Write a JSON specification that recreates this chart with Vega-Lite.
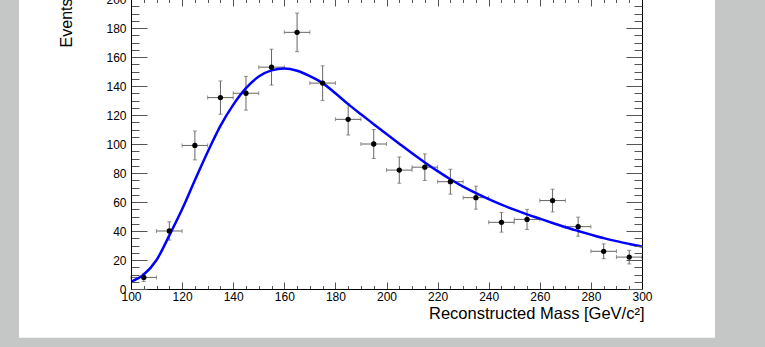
{
  "$schema": "https://vega.github.io/schema/vega-lite/v6.json",
  "width": 511,
  "height": 290,
  "autosize": {"type": "none"},
  "padding": {"left": 131, "top": -1, "right": 123, "bottom": 58},
  "background": "#c5c6c6",
  "config": {
    "view": {"stroke": null},
    "axis": {
      "grid": false,
      "domainColor": "#000000",
      "domainWidth": 1,
      "tickColor": "#555555",
      "tickWidth": 1,
      "labelFont": "Liberation Sans",
      "labelFontSize": 12,
      "labelColor": "#000000",
      "labelFlush": false,
      "labelOverlap": false,
      "labelBound": false,
      "titleFont": "Liberation Sans",
      "titleFontSize": 16,
      "titleFontWeight": "normal",
      "titleColor": "#000000"
    }
  },
  "datasets": {
    "pts": [
      {"m": 105, "xlo": 100, "xhi": 110, "n": 8, "lo": 5.17, "hi": 10.83},
      {"m": 115, "xlo": 110, "xhi": 120, "n": 40, "lo": 33.68, "hi": 46.32},
      {"m": 125, "xlo": 120, "xhi": 130, "n": 99, "lo": 89.05, "hi": 108.95},
      {"m": 135, "xlo": 130, "xhi": 140, "n": 132, "lo": 120.51, "hi": 143.49},
      {"m": 145, "xlo": 140, "xhi": 150, "n": 135, "lo": 123.38, "hi": 146.62},
      {"m": 155, "xlo": 150, "xhi": 160, "n": 153, "lo": 140.63, "hi": 165.37},
      {"m": 165, "xlo": 160, "xhi": 170, "n": 177, "lo": 163.7, "hi": 190.3},
      {"m": 175, "xlo": 170, "xhi": 180, "n": 142, "lo": 130.08, "hi": 153.92},
      {"m": 185, "xlo": 180, "xhi": 190, "n": 117, "lo": 106.18, "hi": 127.82},
      {"m": 195, "xlo": 190, "xhi": 200, "n": 100, "lo": 90, "hi": 110},
      {"m": 205, "xlo": 200, "xhi": 210, "n": 82, "lo": 72.94, "hi": 91.06},
      {"m": 215, "xlo": 210, "xhi": 220, "n": 84, "lo": 74.83, "hi": 93.17},
      {"m": 225, "xlo": 220, "xhi": 230, "n": 74, "lo": 65.4, "hi": 82.6},
      {"m": 235, "xlo": 230, "xhi": 240, "n": 63, "lo": 55.06, "hi": 70.94},
      {"m": 245, "xlo": 240, "xhi": 250, "n": 46, "lo": 39.22, "hi": 52.78},
      {"m": 255, "xlo": 250, "xhi": 260, "n": 48, "lo": 41.07, "hi": 54.93},
      {"m": 265, "xlo": 260, "xhi": 270, "n": 61, "lo": 53.19, "hi": 68.81},
      {"m": 275, "xlo": 270, "xhi": 280, "n": 43, "lo": 36.44, "hi": 49.56},
      {"m": 285, "xlo": 280, "xhi": 290, "n": 26, "lo": 20.9, "hi": 31.1},
      {"m": 295, "xlo": 290, "xhi": 300, "n": 22, "lo": 17.31, "hi": 26.69}
    ],
    "fit": [
      {"x": 100, "y": 5}, {"x": 105, "y": 10}, {"x": 110, "y": 20}, {"x": 115, "y": 37},
      {"x": 120, "y": 55}, {"x": 125, "y": 75}, {"x": 130, "y": 94.5}, {"x": 135, "y": 112.5},
      {"x": 140, "y": 127}, {"x": 145, "y": 138.5}, {"x": 150, "y": 146.5}, {"x": 155, "y": 150.8},
      {"x": 160, "y": 152}, {"x": 165, "y": 150.5}, {"x": 170, "y": 146.8}, {"x": 175, "y": 142},
      {"x": 180, "y": 135}, {"x": 185, "y": 127.5}, {"x": 190, "y": 120.5}, {"x": 195, "y": 113.7},
      {"x": 200, "y": 106.9}, {"x": 205, "y": 100.2}, {"x": 210, "y": 93.6}, {"x": 215, "y": 87.3},
      {"x": 220, "y": 81.3}, {"x": 225, "y": 75.7}, {"x": 230, "y": 70.6}, {"x": 235, "y": 66.1},
      {"x": 240, "y": 62}, {"x": 245, "y": 58.2}, {"x": 250, "y": 54.7}, {"x": 255, "y": 51.5},
      {"x": 260, "y": 48.5}, {"x": 265, "y": 45.5}, {"x": 270, "y": 42.6}, {"x": 275, "y": 40},
      {"x": 280, "y": 37.5}, {"x": 285, "y": 35.1}, {"x": 290, "y": 33}, {"x": 295, "y": 31.1},
      {"x": 300, "y": 29.3}
    ]
  },
  "resolve": {"axis": {"x": "independent", "y": "independent"}},
  "layer": [
    {
      "data": {"values": [{}]},
      "mark": {"type": "rect", "fill": "#ffffff", "clip": false},
      "encoding": {
        "x": {"datum": 56.16, "type": "quantitative", "scale": {"domain": [100, 300], "nice": false, "zero": false}, "axis": null},
        "x2": {"datum": 328.57},
        "y": {"datum": -33.6, "type": "quantitative", "scale": {"domain": [0, 200], "nice": false, "zero": false}, "axis": null},
        "y2": {"datum": 215}
      }
    },
    {
      "data": {"name": "pts"},
      "mark": {"type": "rule", "color": "#666666", "strokeWidth": 1},
      "encoding": {
        "x": {"field": "m", "type": "quantitative", "scale": {"domain": [100, 300], "nice": false, "zero": false},
          "axis": {"orient": "bottom", "zindex": 2, "values": [100,105,110,115,120,125,130,135,140,145,150,155,160,165,170,175,180,185,190,195,200,205,210,215,220,225,230,235,240,245,250,255,260,265,270,275,280,285,290,295,300], "tickSize": -3.5, "labels": false, "domain": false, "title": null}},
        "y": {"field": "lo", "type": "quantitative", "scale": {"domain": [0, 200], "nice": false, "zero": false},
          "axis": {"orient": "left", "zindex": 2, "values": [0,5,10,15,20,25,30,35,40,45,50,55,60,65,70,75,80,85,90,95,100,105,110,115,120,125,130,135,140,145,150,155,160,165,170,175,180,185,190,195,200], "tickSize": -8, "labels": false, "domain": false, "title": null}},
        "y2": {"field": "hi"}
      }
    },
    {
      "data": {"name": "pts"},
      "mark": {"type": "rule", "color": "#666666", "strokeWidth": 1},
      "encoding": {
        "x": {"field": "xlo", "type": "quantitative", "scale": {"domain": [100, 300], "nice": false, "zero": false},
          "axis": {"orient": "top", "zindex": 2, "values": [100,120,140,160,180,200,220,240,260,280,300], "tickSize": -7, "labels": false, "title": null}},
        "x2": {"field": "xhi"},
        "y": {"field": "n", "type": "quantitative", "scale": {"domain": [0, 200], "nice": false, "zero": false},
          "axis": {"orient": "right", "zindex": 2, "values": [0,20,40,60,80,100,120,140,160,180,200], "tickSize": -16, "labels": false, "title": null}}
      }
    },
    {
      "data": {"name": "pts"},
      "mark": {"type": "tick", "orient": "horizontal", "color": "#666666", "size": 4, "thickness": 1},
      "encoding": {
        "x": {"field": "m", "type": "quantitative", "scale": {"domain": [100, 300], "nice": false, "zero": false},
          "axis": {"orient": "top", "zindex": 2, "values": [100,105,110,115,120,125,130,135,140,145,150,155,160,165,170,175,180,185,190,195,200,205,210,215,220,225,230,235,240,245,250,255,260,265,270,275,280,285,290,295,300], "tickSize": -3.5, "labels": false, "domain": false, "title": null}},
        "y": {"field": "lo", "type": "quantitative", "scale": {"domain": [0, 200], "nice": false, "zero": false},
          "axis": {"orient": "right", "zindex": 2, "values": [0,5,10,15,20,25,30,35,40,45,50,55,60,65,70,75,80,85,90,95,100,105,110,115,120,125,130,135,140,145,150,155,160,165,170,175,180,185,190,195,200], "tickSize": -8, "labels": false, "domain": false, "title": null}}
      }
    },
    {
      "data": {"name": "pts"},
      "mark": {"type": "tick", "orient": "horizontal", "color": "#666666", "size": 4, "thickness": 1},
      "encoding": {
        "x": {"field": "m", "type": "quantitative", "axis": null},
        "y": {"field": "hi", "type": "quantitative", "axis": null}
      }
    },
    {
      "data": {"name": "pts"},
      "mark": {"type": "tick", "orient": "vertical", "color": "#666666", "size": 4, "thickness": 1},
      "encoding": {
        "x": {"field": "xlo", "type": "quantitative", "axis": null},
        "y": {"field": "n", "type": "quantitative", "axis": null}
      }
    },
    {
      "data": {"name": "pts"},
      "mark": {"type": "tick", "orient": "vertical", "color": "#666666", "size": 4, "thickness": 1},
      "encoding": {
        "x": {"field": "xhi", "type": "quantitative", "axis": null},
        "y": {"field": "n", "type": "quantitative", "axis": null}
      }
    },
    {
      "data": {"name": "fit"},
      "mark": {"type": "line", "color": "#0000ff", "strokeWidth": 2.5, "interpolate": "monotone", "clip": true},
      "encoding": {
        "x": {"field": "x", "type": "quantitative", "scale": {"domain": [100, 300], "nice": false, "zero": false},
          "axis": {"orient": "bottom", "zindex": 2, "values": [100,120,140,160,180,200,220,240,260,280,300], "tickSize": -7, "labelPadding": 9,
            "title": "Reconstructed Mass [GeV/c²]", "titleFontSize": 16.5, "titleAnchor": "end", "titleAlign": "right", "titleBaseline": "alphabetic", "titleX": 513, "titleY": 29}},
        "y": {"field": "y", "type": "quantitative", "scale": {"domain": [0, 200], "nice": false, "zero": false},
          "axis": {"orient": "left", "zindex": 2, "values": [0,20,40,60,80,100,120,140,160,180,200], "tickSize": -16, "labelPadding": 21,
            "title": "Events", "titleAngle": -90, "titleAlign": "right", "titleBaseline": "alphabetic", "titleX": -60, "titleY": -1}}
      }
    },
    {
      "data": {"name": "pts"},
      "mark": {"type": "circle", "color": "#000000", "opacity": 1, "size": 28},
      "encoding": {
        "x": {"field": "m", "type": "quantitative", "axis": null},
        "y": {"field": "n", "type": "quantitative", "axis": null}
      }
    }
  ]
}
